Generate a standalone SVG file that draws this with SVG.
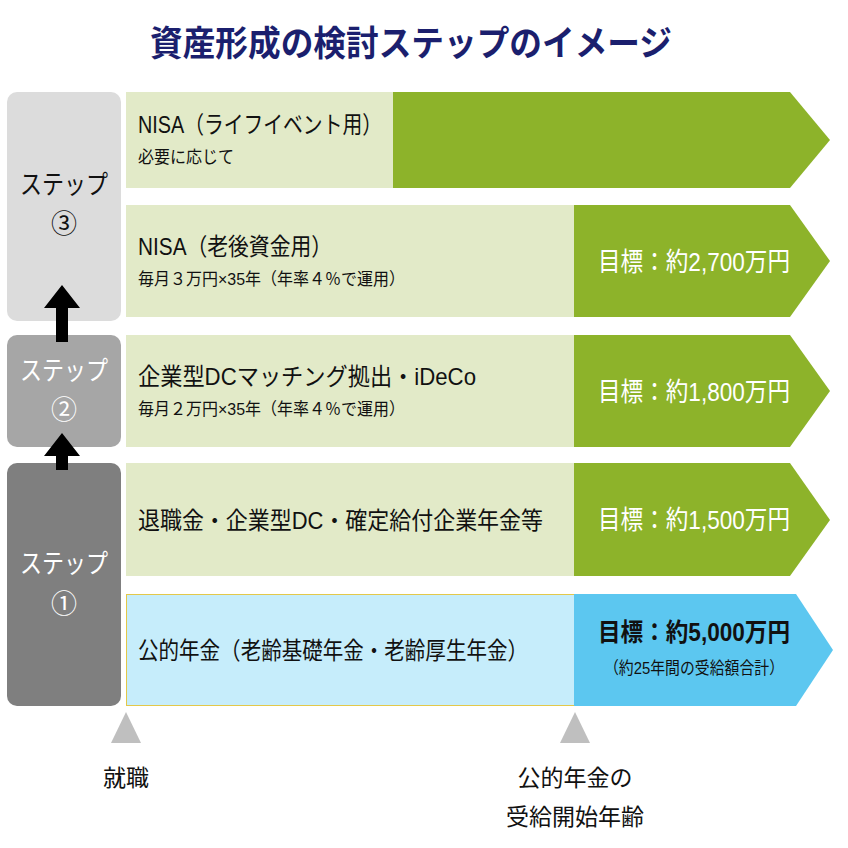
<svg xmlns="http://www.w3.org/2000/svg" width="848" height="848" viewBox="0 0 848 848">
<style>
text{font-family:"Liberation Sans","Noto Sans CJK JP",sans-serif}
.m{font-size:24px;fill:#111}
.s{font-size:17px;fill:#111}
.g{font-size:26px;fill:#fff}
.st{font-size:26px;text-anchor:middle}
.lt{fill:#e2eac8}
.dk{fill:#8db32a}
.lb{font-size:23px;text-anchor:middle;fill:#111}
</style>
<rect width="848" height="848" fill="#fff"/>
<text x="150" y="56" font-size="35" font-weight="bold" fill="#1b1f6e" textLength="522" lengthAdjust="spacingAndGlyphs">資産形成の検討ステップのイメージ</text>
<g id="step3"><rect x="7" y="92" width="114" height="229" rx="10" fill="#dcdcdc"/><text class="st" x="64" y="194" fill="#111" textLength="88" lengthAdjust="spacingAndGlyphs">ステップ</text><text class="st" x="64" y="233" fill="#111">③</text></g>
<g id="step2"><rect x="7" y="335" width="114" height="112" rx="10" fill="#a6a6a6"/><text class="st" x="64" y="380" fill="#fff" textLength="88" lengthAdjust="spacingAndGlyphs">ステップ</text><text class="st" x="64" y="419" fill="#fff">②</text></g>
<g id="step1"><rect x="7" y="463" width="114" height="243" rx="10" fill="#7f7f7f"/><text class="st" x="64" y="573" fill="#fff" textLength="88" lengthAdjust="spacingAndGlyphs">ステップ</text><text class="st" x="64" y="613" fill="#fff">①</text></g>
<g id="connectors" fill="#000">
<polygon points="62,285 80,308 68,308 68,342 56,342 56,308 44,308"/>
<polygon points="62,433 80,456 68,456 68,470 56,470 56,456 44,456"/>
</g>
<g id="row1"><rect class="lt" x="126" y="92" width="268" height="96"/><polygon class="dk" points="393,92 790,92 830,140 790,188 393,188"/><text class="m" x="138" y="133" textLength="244" lengthAdjust="spacingAndGlyphs">NISA（ライフイベント用）</text><text class="s" x="138" y="163" textLength="96" lengthAdjust="spacingAndGlyphs">必要に応じて</text></g>
<g id="row2"><rect class="lt" x="126" y="205" width="449" height="112"/><polygon class="dk" points="574,205 790,205 830,261 790,317 574,317"/><text class="m" x="138" y="255" textLength="194" lengthAdjust="spacingAndGlyphs">NISA（老後資金用）</text><text class="s" x="138" y="285" textLength="267" lengthAdjust="spacingAndGlyphs">毎月３万円×35年（年率４％で運用）</text><text class="g" x="598" y="271" textLength="192" lengthAdjust="spacingAndGlyphs">目標：約2,700万円</text></g>
<g id="row3"><rect class="lt" x="126" y="335" width="449" height="112"/><polygon class="dk" points="574,335 790,335 830,391 790,447 574,447"/><text class="m" x="138" y="385" textLength="338" lengthAdjust="spacingAndGlyphs">企業型DCマッチング拠出・iDeCo</text><text class="s" x="138" y="415" textLength="267" lengthAdjust="spacingAndGlyphs">毎月２万円×35年（年率４％で運用）</text><text class="g" x="598" y="401" textLength="192" lengthAdjust="spacingAndGlyphs">目標：約1,800万円</text></g>
<g id="row4"><rect class="lt" x="126" y="463" width="449" height="113"/><polygon class="dk" points="574,463 790,463 830,520 790,576 574,576"/><text class="m" x="138" y="529" textLength="405" lengthAdjust="spacingAndGlyphs">退職金・企業型DC・確定給付企業年金等</text><text class="g" x="598" y="529" textLength="192" lengthAdjust="spacingAndGlyphs">目標：約1,500万円</text></g>
<g id="row5"><rect x="126.5" y="594.5" width="448" height="111" fill="#c6edfb" stroke="#e3c84a"/><polygon points="574,594 796,594 833,650 796,706 574,706" fill="#5cc7f0"/><text class="m" x="138" y="659" textLength="390" lengthAdjust="spacingAndGlyphs">公的年金（老齢基礎年金・老齢厚生年金）</text><text x="598" y="641" font-size="25" font-weight="bold" fill="#111" textLength="192" lengthAdjust="spacingAndGlyphs">目標：約5,000万円</text><text x="604" y="674" font-size="17" fill="#111" textLength="180" lengthAdjust="spacingAndGlyphs">（約25年間の受給額合計）</text></g>
<g id="m1"><polygon points="126,712 141,743 111,743" fill="#bfbfbf"/><text class="lb" x="126" y="786">就職</text></g>
<g id="m2"><polygon points="575,712 590,743 560,743" fill="#bfbfbf"/><text class="lb" x="575" y="786">公的年金の</text><text class="lb" x="575" y="825">受給開始年齢</text></g>
</svg>
